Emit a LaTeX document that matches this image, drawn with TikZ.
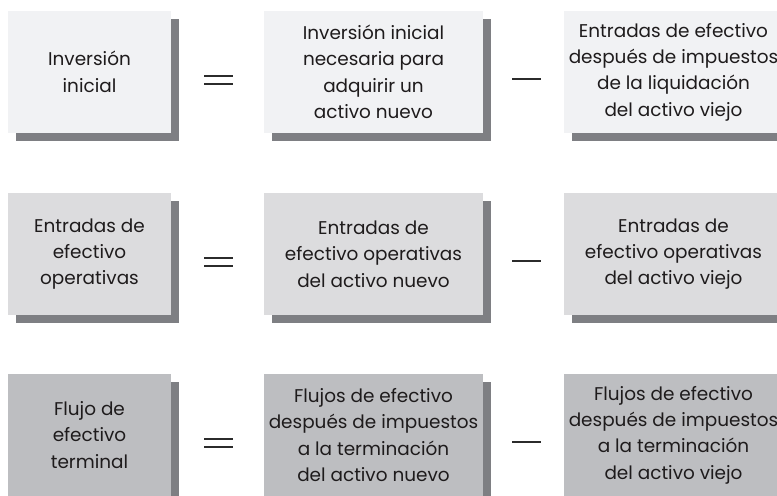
\documentclass[tikz,border=0pt]{standalone}
\usepackage{fontspec}
\setmainfont{Poppins}
\usetikzlibrary{shadows}
\definecolor{fillA}{HTML}{F1F2F4}
\definecolor{fillB}{HTML}{DCDCDE}
\definecolor{fillC}{HTML}{BDBEC1}
\definecolor{shadowc}{HTML}{7E7F83}
\definecolor{txt}{HTML}{1E1B1C}
\definecolor{symc}{HTML}{2B2B2B}
\begin{document}
\begin{tikzpicture}[x=1bp,y=-1bp,
  box/.style={fill=#1, minimum height=122bp, align=center, inner sep=0pt,
    text=txt, font=\fontsize{18.5}{26.5}\selectfont,
    drop shadow={shadow xshift=8bp, shadow yshift=-8bp, fill=shadowc, opacity=1}},
  lbox/.style={box=#1, minimum width=163bp},
  wbox/.style={box=#1, minimum width=219bp},
  sym/.style={line width=1.6bp, draw=symc}]
\useasboundingbox (0,0) rectangle (777,496);
\clip (0,0) rectangle (777,496);
% row 1
\node[lbox=fillA] (L1) at (89.5,72) {Inversión\\inicial};
\node[wbox=fillA] (M1) at (373.5,72) {Inversión inicial\\necesaria para\\adquirir un\\activo nuevo};
\node[wbox=fillA] (R1) at (673.5,72) {Entradas de efectivo\\después de impuestos\\de la liquidación\\del activo viejo};
% row 2
\node[lbox=fillB] (L2) at (89.5,254) {Entradas de\\efectivo\\operativas};
\node[wbox=fillB] (M2) at (373.5,254) {Entradas de\\efectivo operativas\\del activo nuevo};
\node[wbox=fillB] (R2) at (673.5,254) {Entradas de\\efectivo operativas\\del activo viejo};
% row 3
\node[lbox=fillC] (L3) at (89.5,435) {Flujo de\\efectivo\\terminal};
\node[wbox=fillC] (M3) at (373.5,435) {Flujos de efectivo\\después de impuestos\\a la terminación\\del activo nuevo};
\node[wbox=fillC] (R3) at (673.5,435) {Flujos de efectivo\\después de impuestos\\a la terminación\\del activo viejo};
% operators
\foreach \yc in {72,254,435}{
  \draw[sym] (204,\yc+4) -- ++(29,0);
  \draw[sym] (204,\yc+12) -- ++(29,0);
  \draw[sym] (512,\yc+7) -- ++(29,0);
}
\end{tikzpicture}
\end{document}
